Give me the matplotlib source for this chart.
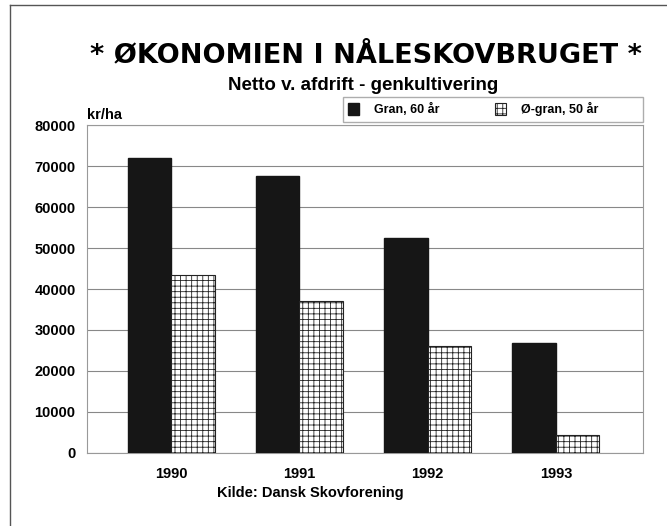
import numpy as np
import matplotlib.pyplot as plt
from matplotlib.lines import Line2D

# data
years = ["1990", "1991", "1992", "1993"]
gran = [72000, 67500, 52500, 26800]
oe_gran = [43500, 37000, 26200, 4400]
series_names = ["Gran, 60 år", "Ø-gran, 50 år"]

plt.rcParams["font.family"] = ["Liberation Sans", "DejaVu Sans"]
plt.rcParams["hatch.linewidth"] = 0.6

fig = plt.figure(figsize=(6.67, 5.26), dpi=100)
ax = fig.add_axes([0.130, 0.139, 0.834, 0.623])

x = np.arange(len(years))
w = 0.34
ax.bar(x - w / 2, gran, w, color="#161616", edgecolor="#161616", label=series_names[0], zorder=3)
# trailing spaces leave the empty room on the right of the legend box
ax.bar(x + w / 2, oe_gran, w, color="white", edgecolor="#222222", hatch="+++",
       linewidth=0.8, label=series_names[1] + " " * 11, zorder=3)

ax.set_xlim(-0.66, 3.68)
ax.set_ylim(0, 80000)
ax.set_yticks(range(0, 80001, 10000))
ax.set_xticks(x)
ax.set_xticklabels(years)
ax.tick_params(length=0, labelsize=10.5, pad=8)
ax.tick_params(axis="x", pad=10)
for lab in ax.get_xticklabels() + ax.get_yticklabels():
    lab.set_fontweight("bold")
ax.grid(axis="y", color="#888888", linewidth=0.8, zorder=0)
for s in ax.spines.values():
    s.set_color("#999999")
    s.set_linewidth(0.8)

ax.text(0.0, 1.01, "kr/ha", transform=ax.transAxes, ha="left", va="bottom",
        fontsize=10.5, fontweight="bold")

leg = ax.legend(loc="lower left", bbox_to_anchor=(0.46, 1.01, 0.54, 0.07), mode="expand",
                ncol=2, fancybox=False, edgecolor="#999999", handlelength=0.9,
                handleheight=1.0, handletextpad=1.2, borderpad=0.45, borderaxespad=0,
                prop={"weight": "bold", "size": 9})

fig.text(0.548, 0.895, "* ØKONOMIEN I NÅLESKOVBRUGET *", ha="center", va="center",
         fontsize=19.5, fontweight="bold", family="DejaVu Sans")
fig.text(0.545, 0.838, "Netto v. afdrift - genkultivering", ha="center", va="center",
         fontsize=13.5, fontweight="bold")
fig.text(0.465, 0.062, "Kilde: Dansk Skovforening", ha="center", va="center",
         fontsize=10.5, fontweight="bold")

# figure border lines
fig.add_artist(Line2D([0.015, 1.0], [0.99, 0.99], color="#555555", linewidth=1))
fig.add_artist(Line2D([0.015, 0.015], [0.0, 0.99], color="#555555", linewidth=1))

fig.savefig("out.png", dpi=100)
